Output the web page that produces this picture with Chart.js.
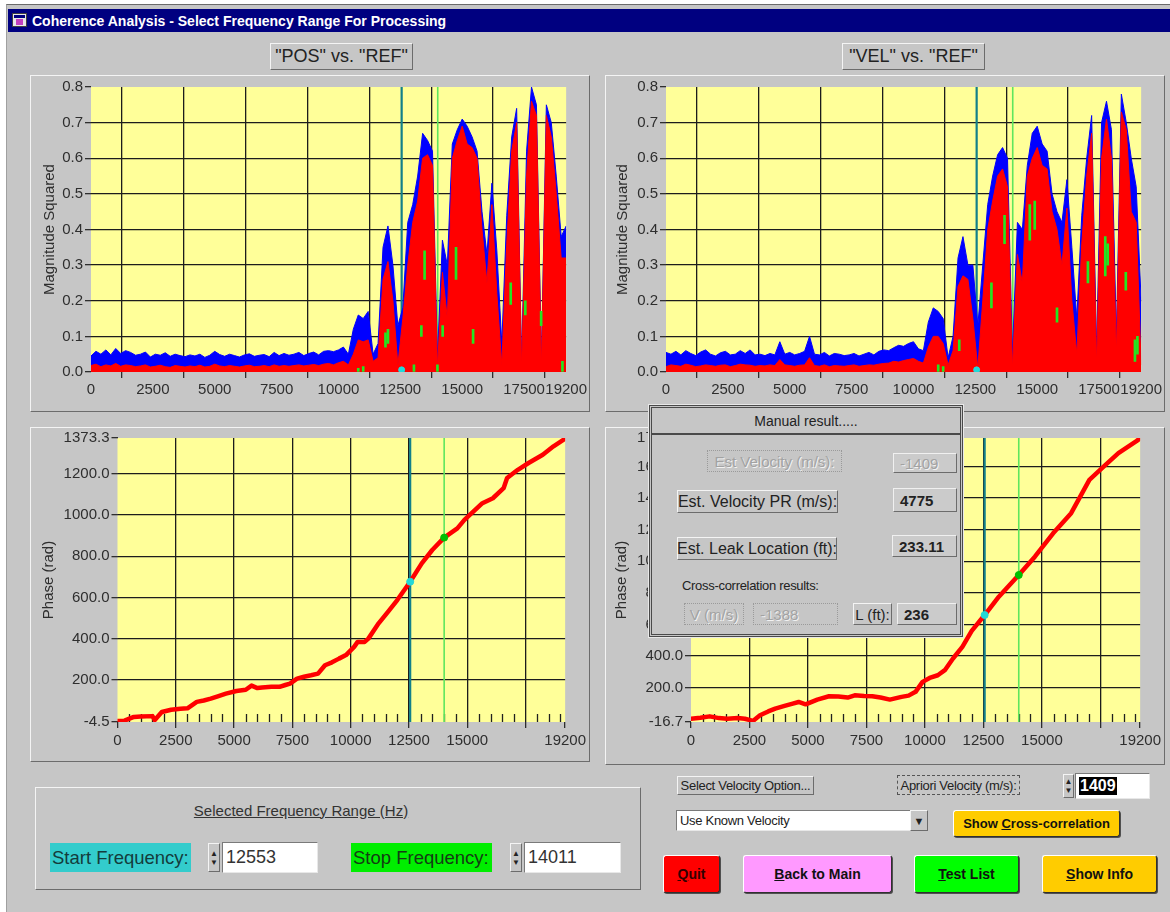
<!DOCTYPE html>
<html lang="en">
<head>
<meta charset="UTF-8">
<title>Coherence Analysis - Select Frequency Range For Processing</title>
<script src="https://cdn.jsdelivr.net/npm/chart.js"></script>
<style>
  body { margin: 0; width: 1170px; height: 912px; position: relative; overflow: hidden; background: #fff; font-family: 'Liberation Sans', Arial, sans-serif; color: #222; }
  .abs { position: absolute; box-sizing: border-box; }
  .win { left: 6px; top: 4px; right: 0; bottom: 0; background: #c6c6c6; border-top: 1px solid #6a6a6a; border-left: 1px solid #a0a0a0; }
  .raised { border: 1px solid; border-color: #f4f4f4 #6c6c6c #6c6c6c #f4f4f4; }
  .ctr { display: flex; align-items: center; justify-content: center; white-space: nowrap; }
  .lft { display: flex; align-items: center; white-space: nowrap; }
  .dis { color: #a2a2a2; text-shadow: 1px 1px 0 #f2f2f2; border: 1px dotted #9a9a9a; }
  .val { background: #cbcbcb; border: 1px solid; border-color: #f0f0f0 #6c6c6c #6c6c6c #f0f0f0; padding-left: 6px; font-size: 15px; font-weight: bold; }
  .btn { border: 1px solid; border-color: #ffffff #303030 #303030 #ffffff; box-shadow: 1px 1px 0 #505050; font-weight: bold; font-size: 14px; color: #111; border-radius: 3px; }
  .spin { display: flex; flex-direction: column; align-items: center; justify-content: center; font-size: 8px; line-height: 9px; color: #222; background: #c6c6c6; }
  .inp { background: #fff; border: 1px solid; border-color: #7a7a7a #e8e8e8 #e8e8e8 #7a7a7a; padding-left: 3px; }
  canvas { position: absolute; }
</style>
</head>
<body>
<div class="abs win"></div>

<!-- title bar -->
<div class="abs" style="left:8px;top:9px;width:1162px;height:23px;background:#000080;"></div>
<div class="abs" style="left:12px;top:13px;width:15px;height:14px;background:#e8e8e8;border:1px solid #404040;">
  <div class="abs" style="left:1px;top:1px;width:11px;height:3px;background:#000080;"></div>
  <div class="abs" style="left:3px;top:5px;width:7px;height:6px;background:#c040c0;"></div>
</div>
<div class="abs lft" style="left:32px;top:9px;height:23px;color:#fff;font-weight:bold;font-size:14px;">Coherence Analysis - Select Frequency Range For Processing</div>

<!-- graph captions -->
<div class="abs raised ctr" style="left:270px;top:43px;width:143px;height:27px;font-size:18px;">"POS" vs. "REF"</div>
<div class="abs raised ctr" style="left:842px;top:43px;width:143px;height:27px;font-size:18px;">"VEL" vs. "REF"</div>

<!-- graph panels -->
<div class="abs raised" style="left:30px;top:75px;width:560px;height:337px;"></div>
<div class="abs raised" style="left:605px;top:75px;width:560px;height:337px;"></div>
<div class="abs raised" style="left:30px;top:427px;width:560px;height:335px;"></div>
<div class="abs raised" style="left:605px;top:427px;width:560px;height:338px;"></div>

<canvas id="cohPos" width="560" height="335" style="left:30px;top:75px;"></canvas>
<canvas id="cohVel" width="560" height="335" style="left:605px;top:75px;"></canvas>
<canvas id="phPos" width="560" height="335" style="left:30px;top:427px;"></canvas>
<canvas id="phVel" width="560" height="335" style="left:605px;top:427px;"></canvas>

<!-- manual result dialog -->
<div class="abs" style="left:649px;top:405px;width:314px;height:232px;background:#c6c6c6;border:3px double #4a4a4a;outline:1px solid #e8e8e8;z-index:5;">
  <div class="abs ctr" style="left:0;top:0;width:308px;height:27px;font-size:14px;border-bottom:2px solid #4a4a4a;">Manual result.....</div>
  <div class="abs ctr dis" style="left:55px;top:42px;width:135px;height:22px;font-size:15px;">Est Velocity (m/s):</div>
  <div class="abs lft val" style="left:241px;top:45px;width:64px;height:20px;color:#a2a2a2;font-weight:normal;text-shadow:1px 1px 0 #f2f2f2;">-1409</div>
  <div class="abs ctr raised" style="left:25px;top:82px;width:161px;height:23px;font-size:16px;">Est. Velocity PR (m/s):</div>
  <div class="abs lft val" style="left:241px;top:80px;width:64px;height:24px;">4775</div>
  <div class="abs ctr raised" style="left:25px;top:129px;width:160px;height:23px;font-size:16px;">Est. Leak Location (ft):</div>
  <div class="abs lft val" style="left:240px;top:127px;width:65px;height:22px;">233.11</div>
  <div class="abs lft" style="left:30px;top:169px;height:16px;font-size:13px;letter-spacing:-0.3px;">Cross-correlation results:</div>
  <div class="abs ctr dis" style="left:32px;top:195px;width:60px;height:22px;font-size:15px;">V (m/s)</div>
  <div class="abs lft dis" style="left:101px;top:195px;width:85px;height:22px;font-size:15px;padding-left:6px;">-1388</div>
  <div class="abs ctr raised" style="left:201px;top:195px;width:39px;height:22px;font-size:15px;">L (ft):</div>
  <div class="abs lft val" style="left:245px;top:195px;width:60px;height:22px;">236</div>
</div>

<!-- frequency range group -->
<div class="abs raised" style="left:35px;top:787px;width:606px;height:103px;"></div>
<div class="abs ctr" style="left:150px;top:801px;width:302px;height:18px;font-size:15px;text-decoration:underline;color:#333;">Selected Frequency Range (Hz)</div>
<div class="abs lft" style="left:50px;top:843px;width:141px;height:29px;background:#33cccc;font-size:18.5px;color:#143c3c;padding-left:2px;">Start Frequency:</div>
<div class="abs spin raised" style="left:208px;top:843px;width:12px;height:29px;"><span>&#9650;</span><span>&#9660;</span></div>
<div class="abs lft inp" style="left:222px;top:842px;width:96px;height:31px;font-size:18px;color:#333;">12553</div>
<div class="abs lft" style="left:351px;top:843px;width:141px;height:29px;background:#00ee00;font-size:18.5px;color:#143c14;padding-left:2px;">Stop Frequency:</div>
<div class="abs spin raised" style="left:510px;top:843px;width:12px;height:29px;"><span>&#9650;</span><span>&#9660;</span></div>
<div class="abs lft inp" style="left:524px;top:842px;width:97px;height:31px;font-size:18px;color:#333;">14011</div>

<!-- velocity controls -->
<div class="abs ctr raised" style="left:677px;top:776px;width:137px;height:19px;font-size:13px;letter-spacing:-0.3px;">Select Velocity Option...</div>
<div class="abs ctr" style="left:897px;top:775px;width:123px;height:20px;font-size:13px;border:1px dashed #555;letter-spacing:-0.3px;">Apriori Velocity (m/s):</div>
<div class="abs spin raised" style="left:1063px;top:774px;width:11px;height:24px;"><span>&#9650;</span><span>&#9660;</span></div>
<div class="abs lft inp" style="left:1075px;top:773px;width:75px;height:26px;font-size:16px;"><span style="background:#000;color:#fff;font-weight:bold;padding:0 1px;">1409</span></div>
<div class="abs lft inp" style="left:676px;top:810px;width:235px;height:21px;font-size:13px;letter-spacing:-0.3px;">Use Known Velocity</div>
<div class="abs ctr raised" style="left:910px;top:810px;width:18px;height:21px;font-size:11px;background:#c6c6c6;">&#9660;</div>
<div class="abs ctr btn" style="left:953px;top:810px;width:167px;height:27px;background:#ffcc00;font-size:13px;"><span>Show <u>C</u>ross-correlation</span></div>

<div class="abs ctr btn" style="left:663px;top:855px;width:57px;height:38px;background:#ff0000;color:#300;"><span><u>Q</u>uit</span></div>
<div class="abs ctr btn" style="left:743px;top:855px;width:149px;height:38px;background:#ff99ff;"><span><u>B</u>ack to Main</span></div>
<div class="abs ctr btn" style="left:914px;top:855px;width:105px;height:38px;background:#00ff00;"><span><u>T</u>est List</span></div>
<div class="abs ctr btn" style="left:1042px;top:855px;width:115px;height:38px;background:#ffcc00;"><span><u>S</u>how Info</span></div>

<script>
// frequency grid of the coherence traces (Hz)
const freqHz = [0,200,400,600,800,1000,1200,1400,1600,1800,2000,2200,2400,2600,2800,3000,3200,3400,3600,3800,
  4000,4200,4400,4600,4800,5000,5200,5400,5600,5800,6000,6200,6400,6600,6800,7000,7200,7400,7600,7800,
  8000,8200,8400,8600,8800,9000,9200,9400,9600,9800,10000,10200,10400,10600,10800,11000,11200,11400,11600,11800,
  12000,12200,12400,12600,12800,13000,13200,13400,13600,13800,14000,14200,14400,14600,14800,15000,15200,15400,15600,15800,
  16000,16200,16400,16600,16800,17000,17200,17400,17600,17800,18000,18200,18400,18600,18800,19000,19200];

// "POS" vs "REF" magnitude squared (envelope tops)
const bluePos = [0.045,0.058,0.05,0.062,0.048,0.066,0.052,0.06,0.055,0.047,
  0.05,0.056,0.042,0.05,0.047,0.054,0.044,0.05,0.046,0.043,
  0.048,0.045,0.05,0.041,0.047,0.058,0.049,0.044,0.05,0.046,
  0.042,0.048,0.051,0.044,0.047,0.049,0.043,0.055,0.046,0.052,
  0.047,0.05,0.055,0.046,0.052,0.056,0.048,0.058,0.06,0.057,
  0.062,0.07,0.05,
  0.12,0.16,0.15,0.17,0.05,0.08,0.35,0.41,0.3,0.13,
  0.18,0.42,0.47,0.55,0.67,0.65,0.62,0.04,0.37,0.3,
  0.64,0.68,0.71,0.69,0.66,0.62,0.45,0.33,0.53,0.34,
  0.08,0.44,0.66,0.74,0.03,0.62,0.8,0.75,0.03,0.75,
  0.7,0.55,0.38,0.41];
const redPos = [0.018,0.022,0.015,0.02,0.017,0.024,0.016,0.02,0.018,0.015,
  0.017,0.02,0.014,0.016,0.019,0.015,0.013,0.018,0.016,0.014,
  0.017,0.015,0.019,0.014,0.016,0.022,0.017,0.015,0.018,0.016,
  0.014,0.017,0.019,0.015,0.016,0.018,0.015,0.02,0.016,0.018,
  0.016,0.018,0.02,0.017,0.019,0.021,0.018,0.022,0.024,0.02,
  0.026,0.03,0.02,
  0.05,0.09,0.085,0.09,0.03,0.04,0.26,0.31,0.2,0.02,
  0.15,0.3,0.42,0.48,0.6,0.61,0.58,0.01,0.28,0.15,
  0.6,0.65,0.69,0.64,0.63,0.6,0.4,0.25,0.47,0.22,
  0.02,0.36,0.62,0.7,0.01,0.55,0.76,0.72,0.01,0.72,
  0.66,0.5,0.32,0.32];
const greenPosHz = [10800,11000,11900,12000,13050,13350,13480,14000,14210,14750,15440,16960,17550,18190,19050];
const greenPosLo = [0,0,0.07,0.08,0,0.1,0.26,0,0.1,0.26,0.08,0.19,0.16,0.13,0];
const greenPosHi = [0.01,0.015,0.11,0.12,0.02,0.13,0.34,0.02,0.13,0.35,0.12,0.25,0.2,0.17,0.03];

// "VEL" vs "REF" magnitude squared
const blueVel = [0.055,0.05,0.058,0.048,0.06,0.052,0.046,0.056,0.062,0.05,
  0.045,0.054,0.058,0.048,0.05,0.06,0.052,0.062,0.048,0.05,
  0.046,0.052,0.048,0.085,0.05,0.055,0.048,0.052,0.058,0.1,
  0.05,0.048,0.055,0.045,0.052,0.05,0.046,0.048,0.052,0.045,
  0.05,0.055,0.048,0.058,0.062,0.06,0.068,0.075,0.072,0.08,
  0.085,0.065,0.06,
  0.14,0.18,0.17,0.15,0.04,0.1,0.32,0.38,0.3,0.3,
  0.13,0.3,0.47,0.55,0.61,0.63,0.6,0.05,0.42,0.4,
  0.58,0.67,0.69,0.64,0.62,0.5,0.45,0.42,0.54,0.35,
  0.15,0.44,0.6,0.72,0.06,0.7,0.76,0.68,0.1,0.78,
  0.7,0.6,0.52,0.2];
const redVel = [0.015,0.02,0.018,0.016,0.022,0.019,0.015,0.017,0.02,0.018,
  0.016,0.019,0.02,0.015,0.018,0.022,0.02,0.019,0.016,0.018,
  0.017,0.02,0.018,0.035,0.02,0.018,0.016,0.019,0.02,0.04,
  0.018,0.016,0.02,0.015,0.018,0.017,0.016,0.018,0.02,0.016,
  0.018,0.02,0.019,0.022,0.024,0.025,0.03,0.028,0.032,0.035,
  0.038,0.03,0.025,
  0.07,0.1,0.1,0.08,0.02,0.06,0.24,0.27,0.26,0.15,
  0.01,0.2,0.4,0.48,0.55,0.57,0.52,0.01,0.33,0.25,
  0.55,0.6,0.63,0.58,0.57,0.45,0.4,0.3,0.46,0.2,
  0.05,0.36,0.55,0.67,0.02,0.6,0.71,0.6,0.05,0.73,
  0.68,0.45,0.42,0.02];
const greenVelHz = [11000,11200,11850,13150,13680,14700,14900,15800,17050,17750,17850,18580,18950,19050];
const greenVelLo = [0,0,0.06,0.18,0.36,0.37,0.4,0.14,0.25,0.27,0.3,0.23,0.03,0.05];
const greenVelHi = [0.02,0.015,0.09,0.25,0.44,0.47,0.48,0.18,0.31,0.38,0.36,0.28,0.09,0.1];

// unwrapped phase (rad)
const phasePosHz = [0,300,700,1000,1500,1600,1900,2300,2700,3000,3400,3700,4000,4300,4650,5100,5500,5750,6000,6200,
  6600,6950,7200,7400,7700,8000,8300,8600,8900,9200,9500,9800,10150,10300,10600,10760,11200,11600,12000,12553,
  13050,13500,14011,14575,14880,15340,15650,16100,16560,16710,17170,17630,18240,18700,19200];
const phasePosRad = [0,2,20,22,24,5,44,55,60,62,93,100,109,120,133,146,152,172,160,163,
  166,166,175,182,206,215,222,230,271,285,303,320,360,384,384,400,474,530,587,676,
  765,830,890,935,976,1025,1057,1081,1130,1179,1219,1252,1292,1333,1370];
const phaseVelHz = [0,400,800,1200,1550,2000,2300,2650,2950,3300,3600,4000,4350,4600,4900,5400,5900,6300,6700,7000,
  7400,7750,8100,8500,9000,9300,9600,9900,10200,10550,10850,11200,11600,12000,12553,13160,14011,14700,15480,16250,
  17030,17650,18270,19040,19200];
const phaseVelRad = [4,10,19,8,4,8,4,-10,26,50,68,85,100,110,95,125,146,145,138,152,
  148,146,138,125,142,150,174,237,262,279,311,385,459,560,660,776,913,1029,1177,1304,
  1515,1600,1684,1760,1778];

// cursors and cursor readouts
const cursorStartHz = 12553;
const cursorStopHz = 14011;
const markPos = [676, 890];
const markVel = [660, 913];

// axis ticks
const xTicksTop = [0,2500,5000,7500,10000,12500,15000,17500,19200];
const xTicksBottom = [0,2500,5000,7500,10000,12500,15000,17500,19200];
const xLabelsHidden = [17500];
const yTicksCoh = [0,0.1,0.2,0.3,0.4,0.5,0.6,0.7,0.8];
const yTicksPhPos = [-4.5,200,400,600,800,1000,1200,1373.3];
const yTicksPhVel = [-16.7,200,400,600,800,1000,1200,1400,1600,1779.6];

Chart.defaults.font.family = "'Liberation Sans', Arial, sans-serif";

// yellow plot area, minor ticks and frequency cursors
const plotDecor = {
  id: 'plotDecor',
  beforeDraw(chart) {
    const { ctx, chartArea: a } = chart;
    ctx.save();
    ctx.fillStyle = '#ffff99';
    ctx.fillRect(a.left, a.top, a.right - a.left, a.bottom - a.top);
    ctx.restore();
  },
  beforeDatasetsDraw(chart, args, opts) {
    const { ctx, chartArea: a } = chart;
    const x = chart.scales.x;
    ctx.save();
    if (opts.minorStep) {
      ctx.strokeStyle = '#202020';
      ctx.lineWidth = 1.3;
      for (let v = opts.minorStep; v < x.max; v += opts.minorStep) {
        if (v % 2500 === 0) continue;
        const px = Math.round(x.getPixelForValue(v)) + 0.5;
        ctx.beginPath();
        ctx.moveTo(px, a.bottom);
        ctx.lineTo(px, a.bottom - 8);
        ctx.stroke();
      }
    }
    [[cursorStartHz, '#12808a', 2.2], [cursorStopHz, '#5ee65e', 1.6]].forEach(([hz, col, w]) => {
      const px = x.getPixelForValue(hz);
      ctx.strokeStyle = col;
      ctx.lineWidth = w;
      ctx.beginPath();
      ctx.moveTo(px, a.top);
      ctx.lineTo(px, a.bottom);
      ctx.stroke();
    });
    ctx.restore();
  }
};

function edgeColor(ticks) {
  const lo = ticks[0], hi = ticks[ticks.length - 1];
  return c => (c.tick && (c.tick.value === lo || c.tick.value === hi)) ? 'rgba(0,0,0,0)' : '#1c1c1c';
}

function makeOptions(o) {
  return {
    responsive: false,
    animation: false,
    events: [],
    layout: { padding: { left: 0, top: o.top, right: o.right, bottom: 0 } },
    plugins: { legend: { display: false }, tooltip: { enabled: false }, plotDecor: { minorStep: o.minorStep } },
    scales: {
      x: {
        type: 'linear', min: 0, max: 19200, offset: false,
        afterBuildTicks: s => { s.ticks = o.xTicks.map(v => ({ value: v })); },
        afterFit: s => { s.height = o.xHeight; },
        ticks: { autoSkip: false, maxRotation: 0, padding: o.xPad, color: '#2e2e2e', font: { size: 15 },
                 callback: v => xLabelsHidden.includes(v) && o.hide17500 ? '' : String(v) },
        grid: { color: edgeColor(o.xTicks), lineWidth: 1.3, tickLength: 6, tickColor: '#2e2e2e', tickWidth: 1.3 },
        border: { display: false }
      },
      y: {
        min: o.yTicks[0], max: o.yTicks[o.yTicks.length - 1],
        afterBuildTicks: s => { s.ticks = o.yTicks.map(v => ({ value: v })); },
        afterFit: s => { s.width = o.yWidth; },
        ticks: { autoSkip: false, padding: 2, color: '#2e2e2e', font: { size: 15 }, callback: v => v.toFixed(1) },
        grid: { color: edgeColor(o.yTicks), lineWidth: 1.3, tickLength: 6, tickColor: '#2e2e2e', tickWidth: 1.3 },
        border: { display: false },
        title: { display: true, text: o.yTitle, color: '#2e2e2e', font: { size: 15 }, padding: { top: o.titlePad, bottom: 0 } }
      }
    }
  };
}

function coherenceChart(id, blue, red, gHz, gLo, gHi, titlePad) {
  return new Chart(document.getElementById(id), {
    type: 'line',
    data: {
      datasets: [
        { type: 'scatter', data: [{ x: cursorStartHz, y: 0.006 }], backgroundColor: '#22d8d8', borderColor: '#22d8d8', pointRadius: 3, order: 0 },
        { type: 'bar', data: gHz.map((f, i) => ({ x: f, y: [gLo[i], gHi[i]] })), backgroundColor: '#22e622', barThickness: 2, order: 1 },
        { data: freqHz.map((f, i) => ({ x: f, y: red[i] })), borderColor: '#ff0000', backgroundColor: '#ff0000', borderWidth: 1, fill: 'origin', pointRadius: 0, tension: 0, order: 2 },
        { data: freqHz.map((f, i) => ({ x: f, y: blue[i] })), borderColor: '#0000ff', backgroundColor: '#0000ff', borderWidth: 1, fill: 'origin', pointRadius: 0, tension: 0, order: 3 }
      ]
    },
    options: makeOptions({ top: 12, right: 22, xTicks: xTicksTop, xHeight: 38, xPad: 3, hide17500: false,
      yTicks: yTicksCoh, yWidth: 61, yTitle: 'Magnitude Squared', titlePad: titlePad, minorStep: 0 }),
    plugins: [plotDecor]
  });
}

function phaseChart(id, hz, rad, marks, yTicks, yWidth, titlePad) {
  return new Chart(document.getElementById(id), {
    type: 'line',
    data: {
      datasets: [
        { type: 'scatter', data: [{ x: cursorStartHz, y: marks[0] }], backgroundColor: '#22d8d8', borderColor: '#22d8d8', pointRadius: 3.5, order: 0 },
        { type: 'scatter', data: [{ x: cursorStopHz, y: marks[1] }], backgroundColor: '#00c000', borderColor: '#00c000', pointRadius: 3.5, order: 1 },
        { data: hz.map((f, i) => ({ x: f, y: rad[i] })), borderColor: '#ff0000', borderWidth: 4.5, borderCapStyle: 'round', borderJoinStyle: 'round', pointRadius: 0, tension: 0, fill: false, order: 2 }
      ]
    },
    options: makeOptions({ top: 11, right: 23, xTicks: xTicksBottom, xHeight: 40, xPad: 4, hide17500: true,
      yTicks: yTicks, yWidth: yWidth, yTitle: 'Phase (rad)', titlePad: titlePad, minorStep: 500 }),
    plugins: [plotDecor]
  });
}

coherenceChart('cohPos', bluePos, redPos, greenPosHz, greenPosLo, greenPosHi, 11);
coherenceChart('cohVel', blueVel, redVel, greenVelHz, greenVelLo, greenVelHi, 9);
phaseChart('phPos', phasePosHz, phasePosRad, markPos, yTicksPhPos, 87.5, 9.6);
phaseChart('phVel', phaseVelHz, phaseVelRad, markVel, yTicksPhVel, 86, 8);
</script>
</body>
</html>
